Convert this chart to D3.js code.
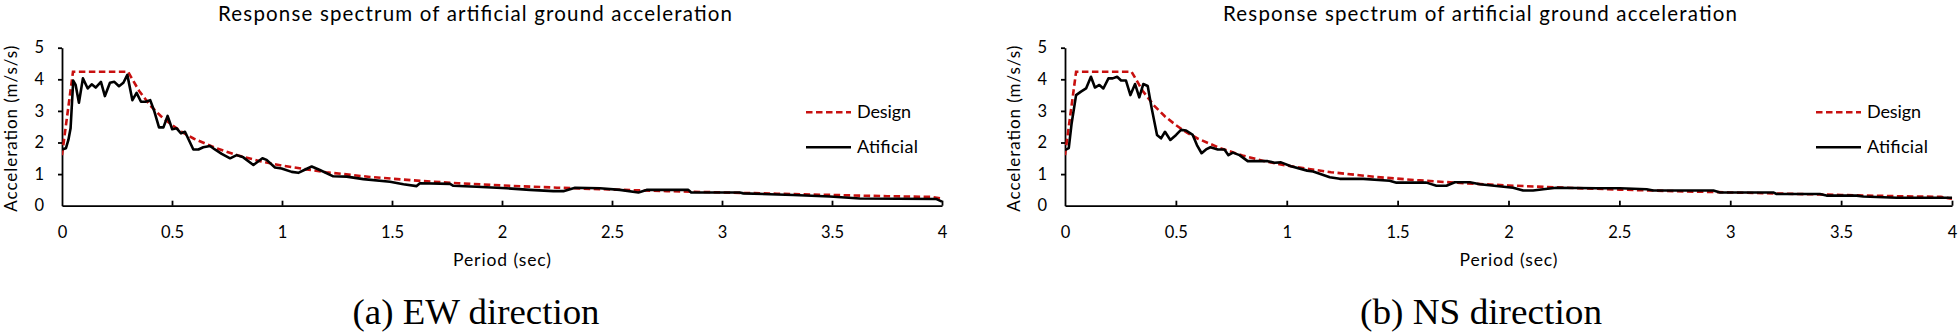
<!DOCTYPE html>
<html>
<head>
<meta charset="utf-8">
<script src="https://cdn.jsdelivr.net/npm/d3@7"></script>
<style>
  html, body { margin: 0; padding: 0; background: #fff; }
  svg { display: block; }
  .axis path, .axis line { stroke: #000; stroke-width: 1.8px; }
  .axis text { font-family: Lato, "Open Sans", sans-serif; font-size: 16.5px; fill: #000; }
</style>
</head>
<body>
<svg id="chart" width="1960" height="332"></svg>
<script>
// Period (sec) and spectral acceleration (m/s/s)
const designPeriod = [0, 0.05, 0.30, 0.35, 0.40, 0.45, 0.50, 0.55, 0.60, 0.70, 0.80, 0.90, 1.0, 1.1, 1.2, 1.4, 1.6, 1.8, 2.0, 2.25, 2.5, 2.75, 3.0, 3.25, 3.5, 3.75, 3.95, 4.0];
const designAccel  = [1.6, 4.24, 4.24, 3.64, 3.18, 2.83, 2.55, 2.31, 2.12, 1.82, 1.59, 1.41, 1.27, 1.16, 1.06, 0.91, 0.80, 0.71, 0.64, 0.57, 0.51, 0.46, 0.42, 0.38, 0.34, 0.30, 0.28, 0.22];

const ewPeriod = [0, 0.018, 0.029, 0.039, 0.051, 0.062, 0.077, 0.095, 0.117, 0.135, 0.153, 0.177, 0.195, 0.218, 0.238, 0.259, 0.279, 0.297, 0.320, 0.339, 0.359, 0.380, 0.401, 0.420, 0.441, 0.461, 0.480, 0.501, 0.521, 0.541, 0.559, 0.597, 0.620, 0.642, 0.673, 0.695, 0.726, 0.764, 0.794, 0.824, 0.870, 0.911, 0.930, 0.968, 0.998, 1.044, 1.074, 1.101, 1.135, 1.172, 1.233, 1.294, 1.370, 1.491, 1.552, 1.612, 1.627, 1.764, 1.779, 1.885, 2.021, 2.127, 2.233, 2.279, 2.332, 2.445, 2.536, 2.62, 2.657, 2.847, 2.86, 3.08, 3.097, 3.324, 3.49, 3.627, 3.975, 4.0];
const ewAccel  = [1.78, 1.82, 2.08, 2.45, 3.96, 3.82, 3.26, 4.03, 3.71, 3.84, 3.74, 3.92, 3.47, 3.89, 3.92, 3.78, 3.89, 4.14, 3.34, 3.57, 3.29, 3.29, 3.34, 2.98, 2.48, 2.48, 2.84, 2.42, 2.45, 2.29, 2.34, 1.78, 1.78, 1.85, 1.89, 1.78, 1.64, 1.50, 1.60, 1.53, 1.29, 1.50, 1.45, 1.21, 1.18, 1.07, 1.04, 1.13, 1.24, 1.13, 0.93, 0.92, 0.84, 0.76, 0.68, 0.62, 0.71, 0.69, 0.63, 0.60, 0.55, 0.50, 0.46, 0.46, 0.57, 0.55, 0.50, 0.42, 0.50, 0.50, 0.42, 0.42, 0.39, 0.34, 0.29, 0.23, 0.21, 0.13];

const nsPeriod = [0, 0.017, 0.030, 0.050, 0.072, 0.095, 0.117, 0.135, 0.155, 0.173, 0.196, 0.215, 0.235, 0.253, 0.275, 0.295, 0.316, 0.335, 0.353, 0.373, 0.391, 0.415, 0.433, 0.451, 0.475, 0.501, 0.523, 0.546, 0.576, 0.595, 0.616, 0.636, 0.656, 0.689, 0.719, 0.737, 0.757, 0.787, 0.824, 0.869, 0.914, 0.944, 0.974, 1.019, 1.092, 1.119, 1.194, 1.239, 1.345, 1.464, 1.495, 1.630, 1.675, 1.720, 1.758, 1.826, 1.871, 2.021, 2.066, 2.111, 2.157, 2.216, 2.40, 2.502, 2.623, 2.653, 2.924, 2.954, 3.194, 3.209, 3.404, 3.434, 3.57, 3.6, 3.75, 4.0];
const nsAccel  = [1.76, 1.82, 2.61, 3.50, 3.61, 3.71, 4.08, 3.74, 3.82, 3.71, 4.03, 4.03, 4.08, 3.96, 3.96, 3.50, 3.85, 3.43, 3.85, 3.79, 3.08, 2.24, 2.13, 2.34, 2.08, 2.24, 2.40, 2.38, 2.24, 1.92, 1.66, 1.78, 1.85, 1.78, 1.78, 1.60, 1.68, 1.60, 1.41, 1.41, 1.41, 1.36, 1.37, 1.25, 1.11, 1.08, 0.90, 0.85, 0.85, 0.79, 0.73, 0.73, 0.63, 0.63, 0.74, 0.74, 0.68, 0.57, 0.48, 0.48, 0.52, 0.57, 0.55, 0.55, 0.52, 0.48, 0.48, 0.42, 0.42, 0.37, 0.37, 0.32, 0.32, 0.29, 0.25, 0.25];

const xTicks = [0, 0.5, 1, 1.5, 2, 2.5, 3, 3.5, 4];
const yTicks = [0, 1, 2, 3, 4, 5];

const chartTitle = "Response spectrum of artificial ground acceleration";
const xLabel = "Period (sec)";
const yLabel = "Acceleration (m/s/s)";
const seriesNames = ["Design", "Atificial"];
const captions = ["(a) EW direction", "(b) NS direction"];

const svg = d3.select("#chart");
const FONT = "Lato, 'Open Sans', sans-serif";
const RED = "#c8100f";

const panels = [
  { left: 62, right: 942, period: ewPeriod, accel: ewAccel, caption: captions[0], capLen: 247, titleX: 475, capX: 476 },
  { left: 1065, right: 1952, period: nsPeriod, accel: nsAccel, caption: captions[1], capLen: 242, titleX: 1480, capX: 1481 }
];

const plotTop = 47.7, plotBottom = 205.7;

panels.forEach(p => {
  const x = d3.scaleLinear().domain([0, 4]).range([p.left, p.right]);
  const y = d3.scaleLinear().domain([0, 5]).range([plotBottom, plotTop]);
  const g = svg.append("g");

  // title
  g.append("text")
    .attr("x", p.titleX).attr("y", 20.5)
    .attr("text-anchor", "middle")
    .attr("font-family", FONT).attr("font-size", 20.5)
    .attr("textLength", 514).attr("lengthAdjust", "spacing")
    .text(chartTitle);

  // axes
  g.append("g").attr("class", "axis")
    .attr("transform", `translate(0,${plotBottom})`)
    .call(d3.axisBottom(x).tickValues(xTicks).tickFormat(d3.format("")).tickSizeInner(-5).tickSizeOuter(0).tickPadding(21))
    .call(a => a.selectAll(".tick").filter(d => d === 0).select("line").remove());

  g.append("g").attr("class", "axis")
    .attr("transform", `translate(${p.left},0)`)
    .call(d3.axisLeft(y).tickValues(yTicks).tickFormat(d3.format("d")).tickSizeInner(4).tickSizeOuter(0).tickPadding(14))
    .call(a => a.selectAll(".tick").filter(d => d === 0).select("line").remove());

  // axis titles
  g.append("text")
    .attr("x", (p.left + p.right) / 2).attr("y", 265.5)
    .attr("text-anchor", "middle")
    .attr("font-family", FONT).attr("font-size", 17.5)
    .attr("textLength", 98).attr("lengthAdjust", "spacing")
    .text(xLabel);

  g.append("text")
    .attr("transform", `translate(${p.left - 45.5},${(plotTop + plotBottom) / 2 + 2}) rotate(-90)`)
    .attr("text-anchor", "middle")
    .attr("font-family", FONT).attr("font-size", 17)
    .attr("textLength", 166).attr("lengthAdjust", "spacing")
    .text(yLabel);

  // series
  const line = d3.line().x(d => x(d[0])).y(d => y(d[1]));
  const clip = "clip" + p.left;
  g.append("clipPath").attr("id", clip)
    .append("rect").attr("x", p.left).attr("y", 0).attr("width", p.right - p.left + 2).attr("height", plotBottom + 1);

  g.append("path")
    .datum(d3.zip(designPeriod, designAccel))
    .attr("clip-path", `url(#${clip})`)
    .attr("fill", "none").attr("stroke", RED).attr("stroke-width", 2.6)
    .attr("stroke-dasharray", "6.5,3.5")
    .attr("d", line);

  g.append("path")
    .datum(d3.zip(p.period, p.accel))
    .attr("clip-path", `url(#${clip})`)
    .attr("fill", "none").attr("stroke", "#000").attr("stroke-width", 2.6)
    .attr("stroke-linejoin", "round")
    .attr("d", line);

  // legend
  const lx = p.right - 136;
  const legend = g.append("g");
  legend.append("line")
    .attr("x1", lx).attr("x2", lx + 45).attr("y1", 112.3).attr("y2", 112.3)
    .attr("stroke", RED).attr("stroke-width", 2.6).attr("stroke-dasharray", "6.5,3.5");
  legend.append("text")
    .attr("x", lx + 51).attr("y", 118.3)
    .attr("font-family", FONT).attr("font-size", 18)
    .attr("textLength", 54).attr("lengthAdjust", "spacing")
    .text(seriesNames[0]);
  legend.append("line")
    .attr("x1", lx).attr("x2", lx + 45).attr("y1", 147.3).attr("y2", 147.3)
    .attr("stroke", "#000").attr("stroke-width", 2.6);
  legend.append("text")
    .attr("x", lx + 51).attr("y", 153.3)
    .attr("font-family", FONT).attr("font-size", 18)
    .attr("textLength", 61).attr("lengthAdjust", "spacing")
    .text(seriesNames[1]);

  // caption
  g.append("text")
    .attr("x", p.capX).attr("y", 323.5)
    .attr("text-anchor", "middle")
    .attr("font-family", "'Liberation Serif', 'Times New Roman', serif").attr("font-size", 35)
    .attr("textLength", p.capLen).attr("lengthAdjust", "spacingAndGlyphs")
    .text(p.caption);
});
</script>
</body>
</html>
